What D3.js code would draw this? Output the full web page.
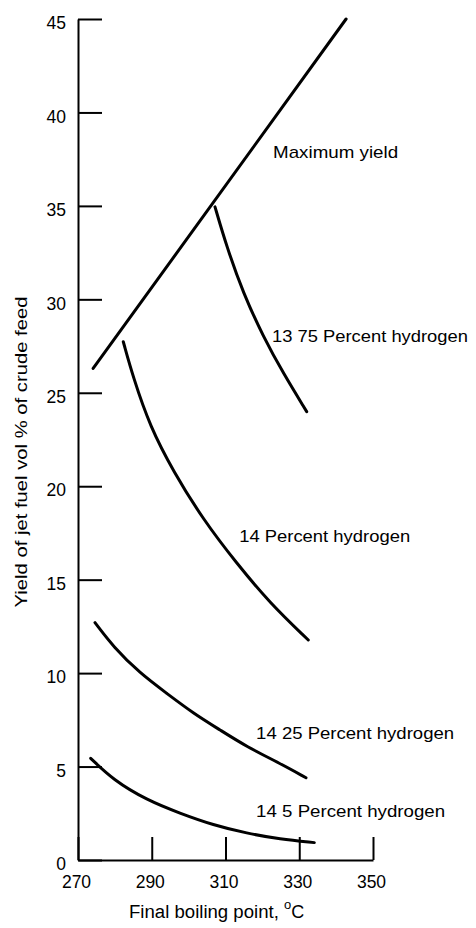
<!DOCTYPE html>
<html>
<head>
<meta charset="utf-8">
<script src="https://cdn.jsdelivr.net/npm/d3@7.9.0/dist/d3.min.js"></script>
<style>
  html, body { margin: 0; padding: 0; background: #fff; }
  svg text { font-family: "Liberation Sans", Arial, sans-serif; fill: #000; }
</style>
</head>
<body>
<svg id="chart" width="476" height="928"></svg>
<script>
// values: [final boiling point °C, yield vol %]
const maxYield = [[274.1, 26.3], [342.7, 45.0]];
const h1375 = [[307.15, 34.95], [310.33, 32.81], [314.83, 30.32], [320.25, 28.0], [325.67, 26.04], [332.02, 23.99]];
const h1400 = [[282.28, 27.73], [285.0, 25.8], [289.53, 23.2], [295.84, 20.8], [303.98, 18.2], [313.04, 15.87], [322.07, 13.74], [332.45, 11.77]];
const h1425 = [[274.61, 12.7], [279.57, 11.41], [286.81, 9.99], [294.05, 8.92], [301.27, 7.85], [308.51, 6.96], [315.75, 6.06], [324.78, 5.17], [331.83, 4.4]];
const h1450 = [[273.44, 5.44], [279.57, 4.28], [288.63, 3.21], [297.66, 2.5], [306.69, 1.87], [315.75, 1.43], [324.78, 1.11], [334.08, 0.93]];

const curveNames = ["Maximum yield", "13 75 Percent hydrogen", "14 Percent hydrogen", "14 25 Percent hydrogen", "14 5 Percent hydrogen"];
// label anchors in data units (left start, baseline)
const labelPos = [[322.9, 37.56], [322.6, 27.7], [313.7, 17.0], [318.3, 6.47], [318.3, 2.3]];
const labelWidths = [125, 196, 171, 198, 189];

const xTicks = [270, 290, 310, 330, 350];
const yTicks = [0, 5, 10, 15, 20, 25, 30, 35, 40, 45];

const svg = d3.select('#chart');

const x = d3.scaleLinear().domain([270, 350]).range([78, 373]);
const y = d3.scaleLinear().domain([0, 45]).range([860, 19]);

// y axis, ticks pointing inward
const yAxis = svg.append('g')
  .attr('transform', `translate(${x(270)},0)`)
  .call(d3.axisLeft(y).tickValues(yTicks).tickSizeInner(-24).tickSizeOuter(0).tickPadding(12));

// x axis, ticks pointing up
const xAxis = svg.append('g')
  .attr('transform', `translate(0,${y(0)})`)
  .call(d3.axisBottom(x).tickValues(xTicks).tickSizeInner(-23).tickSizeOuter(0).tickPadding(16));

[yAxis, xAxis].forEach((g) => {
  g.select('.domain').attr('stroke', '#000').attr('stroke-width', 2);
  g.selectAll('.tick line').attr('stroke', '#000').attr('stroke-width', 2);
  g.selectAll('.tick text').attr('font-size', 17.5).attr('font-family', '"Liberation Sans", Arial, sans-serif');
});
yAxis.selectAll('.tick text').attr('dy', '0.9em').attr('y', -6);
xAxis.selectAll('.tick text').attr('x', -2);

// curves (basis smooths out reading noise, keeps end points)
const line = d3.line()
  .x((d) => x(d[0]))
  .y((d) => y(d[1]))
  .curve(d3.curveBasis);

[maxYield, h1375, h1400, h1425, h1450].forEach((data) => {
  svg.append('path')
    .datum(data)
    .attr('d', line)
    .attr('fill', 'none')
    .attr('stroke', '#000')
    .attr('stroke-width', 3)
    .attr('stroke-linecap', 'round');
});

// curve labels
svg.selectAll('text.curve-label')
  .data(curveNames)
  .enter()
  .append('text')
  .attr('class', 'curve-label')
  .attr('x', (d, i) => x(labelPos[i][0]))
  .attr('y', (d, i) => y(labelPos[i][1]))
  .attr('font-size', 17)
  .attr('textLength', (d, i) => labelWidths[i])
  .attr('lengthAdjust', 'spacingAndGlyphs')
  .text((d) => d);

// axis titles
svg.append('text')
  .attr('transform', 'translate(27,452) rotate(-90)')
  .attr('text-anchor', 'middle')
  .attr('font-size', 17)
  .attr('textLength', 311)
  .attr('lengthAdjust', 'spacingAndGlyphs')
  .text('Yield of jet fuel vol % of crude feed');

const xTitle = svg.append('text')
  .attr('x', 129)
  .attr('y', 918)
  .attr('font-size', 18);
xTitle.append('tspan')
  .attr('textLength', 155)
  .attr('lengthAdjust', 'spacingAndGlyphs')
  .text('Final boiling point, ');
xTitle.append('tspan').attr('font-size', 13).attr('dy', -9).text('o');
xTitle.append('tspan').attr('dy', 9).text('C');
</script>
</body>
</html>
